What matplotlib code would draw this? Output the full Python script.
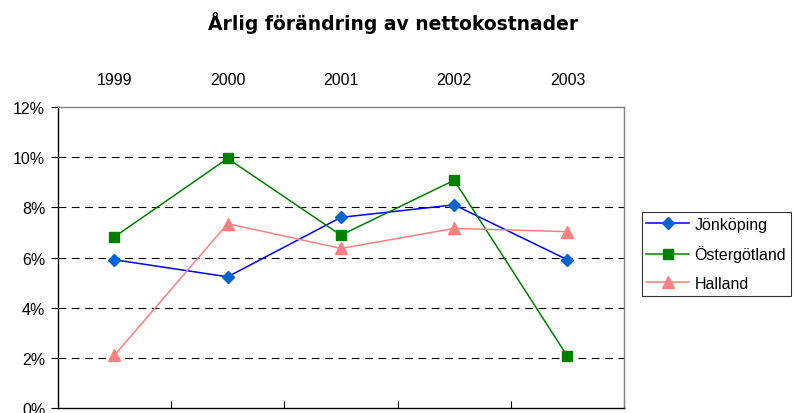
import matplotlib
matplotlib.use('Agg')
import matplotlib.pyplot as plt
from matplotlib.ticker import FuncFormatter

plt.rcParams['font.family'] = ['Liberation Sans', 'DejaVu Sans']

## data
years = ['1999', '2000', '2001', '2002', '2003']
jonkoping = [5.91, 5.23, 7.60, 8.10, 5.91]
ostergotland = [6.82, 9.95, 6.89, 9.08, 2.06]
halland = [2.10, 7.35, 6.36, 7.16, 7.03]

fig = plt.figure(figsize=(7.94, 4.14), dpi=100)
ax = fig.add_axes([0.0727, 0.0121, 0.7133, 0.7270])

x = list(range(len(years)))
ax.plot(x, jonkoping, color='#0000FF', lw=1.1, marker='D', ms=6,
        mfc='#0066CC', mec='#0066CC', label='Jönköping')
ax.plot(x, ostergotland, color='#008000', lw=1.1, marker='s', ms=6.5,
        mfc='#008000', mec='#008000', label='Östergötland')
ax.plot(x, halland, color='#FF8080', lw=1.1, marker='^', ms=8,
        mfc='#FF8080', mec='#FF8080', label='Halland')

ax.set_xlim(-0.5, len(years) - 0.5)
ax.set_ylim(0, 12)

# y axis
ax.set_yticks([0, 2, 4, 6, 8, 10, 12])
ax.yaxis.set_major_formatter(FuncFormatter(lambda v, p: '%d%%' % v))
ax.tick_params(axis='y', direction='out', length=5, width=0.8, labelsize=11.5, pad=4)
for g in [2, 4, 6, 8, 10]:
    ax.axhline(g, color='black', lw=0.8, dashes=(7, 5), zorder=0)

# x axis: labels on top, boundary ticks at the bottom
ax.set_xticks(x)
ax.set_xticklabels(years)
ax.tick_params(axis='x', which='major', top=False, bottom=False,
               labeltop=True, labelbottom=False, labelsize=11.5, pad=11)
ax.set_xticks([i + 0.5 for i in x], minor=True)
ax.tick_params(axis='x', which='minor', bottom=True, direction='in',
               length=5, width=0.8)

ax.spines['left'].set_color('black')
ax.spines['bottom'].set_color('black')
ax.spines['top'].set_color('#808080')
ax.spines['right'].set_color('#808080')
for s in ax.spines.values():
    s.set_linewidth(1)

fig.text(0.495, 0.945, 'Årlig förändring av nettokostnader', ha='center', va='center',
         fontsize=13.5, fontweight='bold', family='DejaVu Sans')

leg = ax.legend(loc='upper left', bbox_to_anchor=(0.808, 0.4855),
                bbox_transform=fig.transFigure, borderaxespad=0, fancybox=False,
                edgecolor='black', fontsize=11.5, handlelength=2.7,
                labelspacing=0.85, borderpad=0.3, handletextpad=0.3)
leg.get_frame().set_linewidth(0.8)

fig.savefig('out.png', dpi=100)
